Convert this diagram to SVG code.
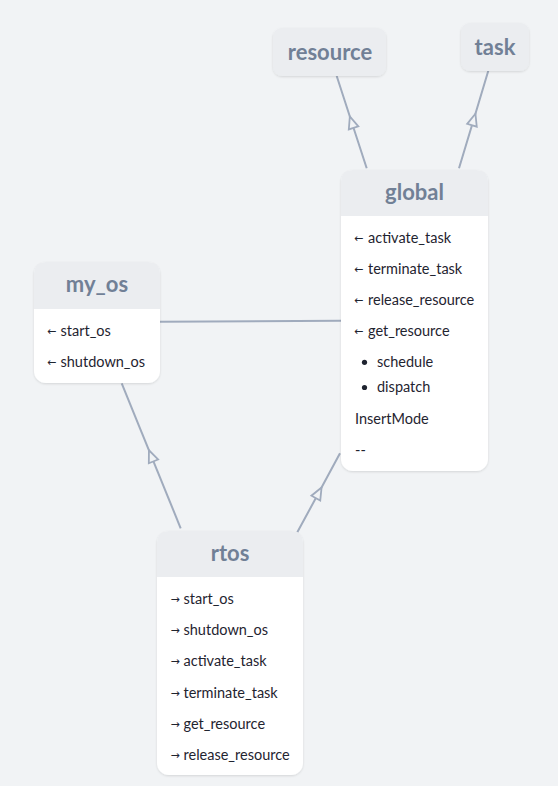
<svg xmlns="http://www.w3.org/2000/svg" width="558" height="786" viewBox="0 0 558 786">
<defs>
<filter id="sh" x="-10%" y="-10%" width="120%" height="120%">
<feDropShadow dx="0" dy="1" stdDeviation="1.2" flood-color="#000" flood-opacity="0.12"/>
</filter>
<marker id="tri" markerUnits="userSpaceOnUse" markerWidth="16" markerHeight="16" viewBox="-2 -8 16 16" refX="6" refY="0" orient="auto">
<path d="M12,0 L0,-5 L0,5 Z" fill="#f1f3f5" stroke="#a0abbd" stroke-width="1.8" stroke-linejoin="miter"/>
</marker>
</defs>
<style>
.bg{fill:#f1f3f5}
.body{fill:#ffffff}
.head{fill:#ebedf0}
.title{font-family:Lato,"Open Sans",sans-serif;font-weight:bold;font-size:22px;fill:#718096;text-anchor:middle}
.item{font-family:Lato,"Open Sans",sans-serif;font-size:14.5px;fill:#1f2430}
.ar{font-family:"DejaVu Sans",sans-serif;font-size:11px;fill:#1f2430}
.edge{fill:none;stroke:#a0abbd;stroke-width:2}
</style>
<rect class="bg" x="0" y="0" width="558" height="786"/>
<g id="connectors">
<path class="edge" d="M366.7,168.3 L351.7,122.2 L336.7,76" marker-mid="url(#tri)"/>
<path class="edge" d="M459,168.3 L473.7,119.5 L488.3,70.7" marker-mid="url(#tri)"/>
<path class="edge" d="M160,321.7 L341,320.7"/>
<path class="edge" d="M180.7,528.3 L151.2,455.8 L121.7,383.3" marker-mid="url(#tri)"/>
<path class="edge" d="M297.3,532.3 L318.7,492.8 L340,453.3" marker-mid="url(#tri)"/>
</g>
<g id="resource">
<rect class="head" x="273" y="28" width="113" height="48" rx="9" filter="url(#sh)"/>
<text class="title" x="330" y="59.5">resource</text>
</g>
<g id="task">
<rect class="head" x="461" y="23" width="68" height="48" rx="9" filter="url(#sh)"/>
<text class="title" x="495" y="54.5">task</text>
</g>
<g id="global">
<rect class="body" x="341" y="170" width="147" height="301" rx="12" filter="url(#sh)"/>
<path class="head" d="M341,216 V182 Q341,170 353,170 H476 Q488,170 488,182 V216 Z"/>
<text class="title" x="414.5" y="199.5">global</text>
<text class="ar" x="354" y="242">←</text><text class="item" x="368" y="243">activate_task</text>
<text class="ar" x="354" y="273">←</text><text class="item" x="368" y="274">terminate_task</text>
<text class="ar" x="354" y="304">←</text><text class="item" x="368" y="305">release_resource</text>
<text class="ar" x="354" y="335">←</text><text class="item" x="368" y="336">get_resource</text>
<circle cx="364.5" cy="362.3" r="2.6" fill="#1f2430"/><text class="item" x="377" y="367">schedule</text>
<circle cx="364.5" cy="387.5" r="2.6" fill="#1f2430"/><text class="item" x="377" y="392">dispatch</text>
<text class="item" x="355" y="424">InsertMode</text>
<text class="item" x="355" y="455">--</text>
</g>
<g id="my_os">
<rect class="body" x="34" y="262" width="126" height="121" rx="12" filter="url(#sh)"/>
<path class="head" d="M34,309 V274 Q34,262 46,262 H148 Q160,262 160,274 V309 Z"/>
<text class="title" x="97" y="291.5">my_os</text>
<text class="ar" x="47" y="335">←</text><text class="item" x="60.5" y="336">start_os</text>
<text class="ar" x="47" y="366">←</text><text class="item" x="60.5" y="367">shutdown_os</text>
</g>
<g id="rtos">
<rect class="body" x="157" y="531" width="146" height="244" rx="12" filter="url(#sh)"/>
<path class="head" d="M157,577 V543 Q157,531 169,531 H291 Q303,531 303,543 V577 Z"/>
<text class="title" x="230" y="560.5">rtos</text>
<text class="ar" x="170.5" y="603">→</text><text class="item" x="183.5" y="604">start_os</text>
<text class="ar" x="170.5" y="634">→</text><text class="item" x="183.5" y="635">shutdown_os</text>
<text class="ar" x="170.5" y="665">→</text><text class="item" x="183.5" y="666">activate_task</text>
<text class="ar" x="170.5" y="697">→</text><text class="item" x="183.5" y="698">terminate_task</text>
<text class="ar" x="170.5" y="728">→</text><text class="item" x="183.5" y="729">get_resource</text>
<text class="ar" x="170.5" y="759">→</text><text class="item" x="183.5" y="760">release_resource</text>
</g>
</svg>
